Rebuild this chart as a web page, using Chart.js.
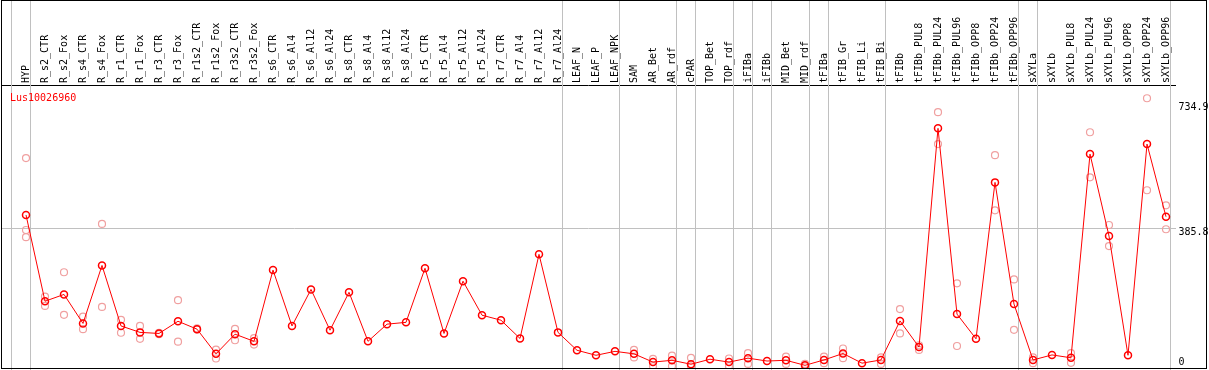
<!DOCTYPE html>
<html><head><meta charset="utf-8">
<script src="https://cdn.jsdelivr.net/npm/chart.js@4/dist/chart.umd.min.js"></script>
<style>html,body{margin:0;padding:0;background:#fff}canvas{display:block}</style>
</head><body>
<canvas id="c" width="1209" height="370"></canvas>
<script>
const categories = ['HYP','R_s2_CTR','R_s2_Fox','R_s4_CTR','R_s4_Fox','R_r1_CTR','R_r1_Fox','R_r3_CTR','R_r3_Fox','R_r1s2_CTR','R_r1s2_Fox','R_r3s2_CTR','R_r3s2_Fox','R_s6_CTR','R_s6_Al4','R_s6_Al12','R_s6_Al24','R_s8_CTR','R_s8_Al4','R_s8_Al12','R_s8_Al24','R_r5_CTR','R_r5_Al4','R_r5_Al12','R_r5_Al24','R_r7_CTR','R_r7_Al4','R_r7_Al12','R_r7_Al24','LEAF_N','LEAF_P','LEAF_NPK','SAM','AR_Bet','AR_rdf','cPAR','TOP_Bet','TOP_rdf','iFIBa','iFIBb','MID_Bet','MID_rdf','tFIBa','tFIB_Gr','tFIB_Li','tFIB_Bi','tFIBb','tFIBb_PUL8','tFIBb_PUL24','tFIBb_PUL96','tFIBb_OPP8','tFIBb_OPP24','tFIBb_OPP96','sXYLa','sXYLb','sXYLb_PUL8','sXYLb_PUL24','sXYLb_PUL96','sXYLb_OPP8','sXYLb_OPP24','sXYLb_OPP96'];
const meanValues = [423,182,201,120,282,113,95,92,126,104,35,90,70,269,113,215,101,207,70,118,123,274,92,238,143,129,78,313,95,45,31,42,35,12,17,6,20,12,23,15,17,3,18,36,9,18,127,54,665,146,77,514,174,18,32,24,593,364,31,621,418];
const replicateA = [582,195,263,139,398,130,113,94,185,106,47,105,79,null,null,null,null,null,null,null,null,null,null,null,null,null,null,null,null,null,null,null,46,21,30,24,null,22,37,null,27,7,27,50,null,25,160,59,710,232,null,590,243,25,null,37,654,395,null,749,450];
const replicateB = [381,169,144,104,166,94,77,90,69,103,22,73,61,null,null,null,null,null,null,null,null,null,null,null,null,null,null,null,null,null,null,null,25,1,1,0,null,1,7,null,7,0,9,23,null,7,92,46,621,57,null,436,102,9,null,10,528,336,null,492,383];
const replicateC = [361,null,null,null,null,null,null,null,null,null,null,null,null,null,null,null,null,null,null,null,null,null,null,null,null,null,null,null,null,null,null,null,null,null,null,null,null,null,null,null,null,null,null,null,null,null,null,null,null,null,null,null,null,null,null,null,null,null,null,null,null];
const yTickValues = [0, 385.8, 734.9];
const groupBoundaries = [-1, 0, 28, 31, 34, 35, 37, 38, 39, 41, 42, 45, 52, 53, 60];
const geneName = 'Lus10026960';

const toXY = arr => arr.map((v, i) => (v === null ? null : {x: i, y: v})).filter(p => p);
const FONT = '"DejaVu Sans Mono", "Liberation Mono", monospace';
const faint = '#f0a0a0';

const framePlugin = {
  id: 'frame',
  beforeDatasetsDraw(chart) {
    const ctx = chart.ctx, xs = chart.scales.x;
    ctx.save();
    ctx.strokeStyle = '#c0c0c0';
    ctx.lineWidth = 1;
    groupBoundaries.forEach(b => {
      const x = Math.floor(xs.getPixelForValue(b) + 4.3) + 0.5;
      ctx.beginPath(); ctx.moveTo(x, 0); ctx.lineTo(x, chart.height); ctx.stroke();
    });
    ctx.restore();
  },
  afterDraw(chart) {
    const ctx = chart.ctx, a = chart.chartArea;
    ctx.save();
    ctx.strokeStyle = '#000'; ctx.lineWidth = 1;
    ctx.strokeRect(1.5, 0.5, chart.width - 4, chart.height - 2);
    ctx.fillStyle = '#ff0000';
    ctx.font = '10px ' + FONT;
    ctx.textBaseline = 'top';
    ctx.textAlign = 'left';
    ctx.fillText(geneName, a.left + 9, a.top + 8);
    ctx.restore();
  }
};

new Chart(document.getElementById('c'), {
  type: 'line',
  data: {
    datasets: [
      {data: toXY(meanValues), borderColor: '#ff0000', borderWidth: 1, tension: 0,
       pointStyle: 'circle', pointRadius: 3.5, pointBorderColor: '#ff0000', pointBorderWidth: 1.5,
       pointBackgroundColor: 'rgba(0,0,0,0)', order: 0},
      {data: toXY(replicateA), showLine: false, pointRadius: 3.5, pointBorderColor: faint, pointBorderWidth: 1.2, pointBackgroundColor: 'rgba(0,0,0,0)', order: 1},
      {data: toXY(replicateB), showLine: false, pointRadius: 3.5, pointBorderColor: faint, pointBorderWidth: 1.2, pointBackgroundColor: 'rgba(0,0,0,0)', order: 1},
      {data: toXY(replicateC), showLine: false, pointRadius: 3.5, pointBorderColor: faint, pointBorderWidth: 1.2, pointBackgroundColor: 'rgba(0,0,0,0)', order: 1}
    ]
  },
  options: {
    responsive: false,
    animation: false,
    layout: {autoPadding: false, padding: {left: 1, top: 0, right: 0, bottom: 1}},
    plugins: {legend: {display: false}, tooltip: {enabled: false}},
    scales: {
      x: {
        type: 'linear', position: 'top',
        min: -25 / 19, max: 60.5,
        afterFit: s => { s.height = 85; s.paddingLeft = 0; s.paddingRight = 0; },
        afterBuildTicks: s => { s.ticks = categories.map((_, i) => ({value: i})); },
        grid: {display: false, drawTicks: false},
        border: {display: true, color: '#000', width: 1},
        ticks: {autoSkip: false, minRotation: 90, maxRotation: 90, padding: 2, labelOffset: 12.5,
                color: '#000', font: {family: FONT, size: 10},
                callback: v => categories[v]}
      },
      y: {
        type: 'linear', position: 'right',
        min: -7.3, max: 786,
        afterFit: s => { s.width = 33.5; s.paddingTop = 0; s.paddingBottom = 0; },
        afterBuildTicks: s => { s.ticks = yTickValues.map(v => ({value: v})); },
        grid: {drawTicks: false, color: c => (c.tick && c.tick.value === yTickValues[1]) ? '#c0c0c0' : 'rgba(0,0,0,0)'},
        border: {display: false},
        ticks: {padding: 3, color: '#000', font: {family: FONT, size: 10, lineHeight: 0.75},
                callback: v => v === 0 ? ['0', ''] : ['', String(v)]}
      }
    }
  },
  plugins: [framePlugin]
});
</script>
</body></html>
